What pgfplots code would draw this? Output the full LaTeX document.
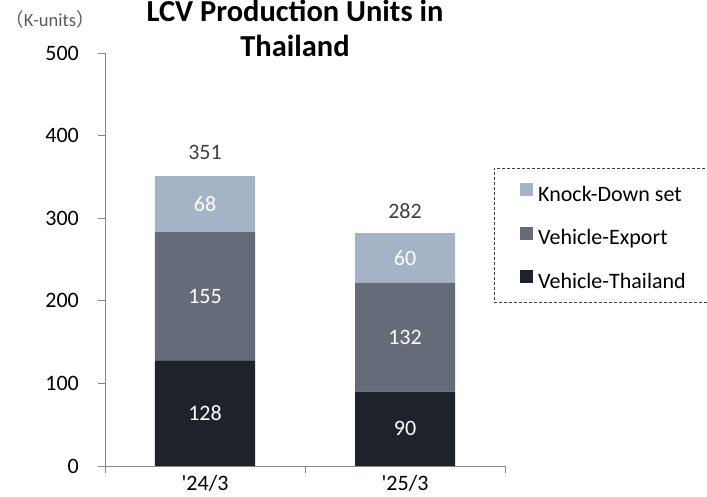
\documentclass[border=0pt]{standalone}
\usepackage{fontspec}
\setmainfont{Carlito}
\newfontfamily\cjk{Noto Sans CJK JP}
\usepackage{pgfplots}
\pgfplotsset{compat=1.18}
\definecolor{kdBlue}{HTML}{A5B3C6}
\definecolor{expGray}{HTML}{656B78}
\definecolor{thaiDark}{HTML}{1E232B}
\definecolor{axisGray}{HTML}{868686}
\definecolor{totalGray}{HTML}{404040}
\definecolor{unitGray}{HTML}{595959}
\newcommand{\lbl}{\fontsize{22}{26}\selectfont}
\pgfplotsset{
  frame/.style={
    at={(0pt,0pt)}, anchor=south west,
    scale only axis, width=400pt, height=413pt,
    xmin=-0.5, xmax=1.5, ymin=0, ymax=500,
  }
}

\begin{document}
\begin{tikzpicture}
\path[use as bounding box] (-105pt,-31pt) rectangle (602pt,466pt);
\begin{axis}[
  frame,
  ybar stacked, bar width=0.5,
  ytick={0,100,...,500},
  xtick={0,1},
  xticklabels={\textquotesingle24/3,\textquotesingle25/3},
  minor xtick={-0.5,0.5,1.5},
  axis x line*=bottom, axis y line*=left,
  axis line style={draw=axisGray, line width=0.8pt},
  tick align=outside,
  major tick length=7pt, minor tick length=7pt,
  tick style={draw=axisGray, line width=0.8pt},
  major x tick style={draw=none},
  /pgf/number format/assume math mode=true,
  tick label style={font=\lbl, text=black},
  yticklabel style={inner sep=0pt, xshift=-19pt},
  xticklabel style={inner sep=0pt, yshift=-2pt},
  reverse legend,
  legend image code/.code={\fill[#1,draw=none] (0pt,0pt) rectangle (13pt,13pt); \path (18pt,0pt);},
  legend style={draw=none, fill=none, at={(1.0375,0.552)}, anchor=west,
    font=\lbl, row sep=20.5pt, inner sep=0pt,
    nodes={inner sep=0pt, text height=15pt, text depth=5pt}},
  legend cell align=left,
]
\addplot[fill=thaiDark, draw=none] coordinates {(0,128) (1,90)};
\addplot[fill=expGray, draw=none] coordinates {(0,155) (1,132)};
\addplot[fill=kdBlue, draw=none] coordinates {(0,68) (1,60)};
\legend{Vehicle-Thailand,Vehicle-Export,Knock-Down set}
\end{axis}
% value labels: segment middles and totals above the bars
\begin{axis}[
  frame, hide axis,
  point meta=explicit symbolic,
  nodes near coords={\pgfplotspointmeta},
  every node near coord/.append style={font=\lbl, anchor=center, inner sep=0pt},
]
\addplot[draw=none, mark=none, every node near coord/.append style={text=white}]
  coordinates {(0,64) [128] (0,205.5) [155] (0,317) [68]
               (1,45) [90] (1,156) [132] (1,252) [60]};
\addplot[draw=none, mark=none, every node near coord/.append style={text=totalGray}]
  coordinates {(0,380) [351] (1,309) [282]};
\end{axis}
% legend frame runs past the right edge of the picture
\draw[black!75, line width=0.8pt, dash pattern=on 3pt off 2pt]
  (660pt,298pt) -- (389pt,298pt) -- (389pt,164pt) -- (660pt,164pt);
\node[font=\bfseries\fontsize{30.5}{34}\selectfont, anchor=base] at (190pt,444pt) {LCV Production Units in};
\node[font=\bfseries\fontsize{30.5}{34}\selectfont, anchor=base] at (190pt,409pt) {Thailand};
\node[font=\fontsize{18.5}{21}\selectfont, text=unitGray, anchor=base] at (-55pt,439pt) {{\cjk （}K-units{\cjk ）}};
\end{tikzpicture}
\end{document}
